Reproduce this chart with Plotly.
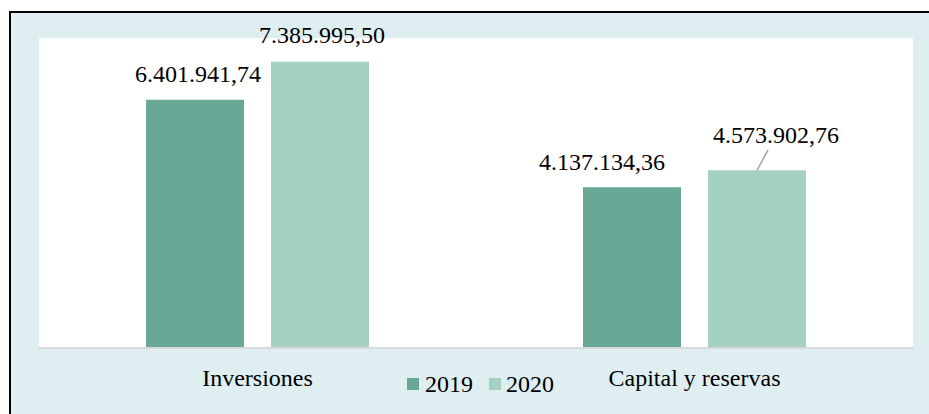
import plotly.graph_objects as go

# Data
categories = ["Inversiones", "Capital y reservas"]
years = ["2019", "2020"]
values_2019 = [6401941.74, 4137134.36]
values_2020 = [7385995.50, 4573902.76]

colors = {"2019": "#69A896", "2020": "#A5D1C2"}
serif = "Times New Roman"
FS = 24


def fmt_es(v):
    s = f"{v:,.2f}"
    return s.replace(",", "X").replace(".", ",").replace("X", ".")


W, H = 929, 414
L, R, T, B = 39, 16, 38, 67
pw, ph = W - L - R, H - T - B
x_px = lambda p: (p - L) / pw
y_px = lambda p: (H - B - p) / ph

BARGAP, GROUPGAP = 0.428, 0.216

fig = go.Figure()
for yr, vals in zip(years, [values_2019, values_2020]):
    fig.add_trace(go.Bar(
        name=yr, x=categories, y=vals,
        marker=dict(color=colors[yr], line=dict(width=0)),
        hoverinfo="skip", showlegend=False,
    ))

# bar centre offset within each category group (pixels)
slot = (pw / len(categories)) * (1 - BARGAP) / 2
offsets = {"2019": -slot / 2, "2020": slot / 2}
# small nudges of individual value labels (pixels)
nudge_x = {("2019", "Inversiones"): 3, ("2020", "Inversiones"): 2,
           ("2019", "Capital y reservas"): -30}
nudge_y = {("2019", "Inversiones"): 11, ("2020", "Inversiones"): 12,
           ("2019", "Capital y reservas"): 10}

annotations = []
for yr, vals in zip(years, [values_2019, values_2020]):
    for cat, v in zip(categories, vals):
        a = dict(x=cat, y=v, xref="x", yref="y", text=fmt_es(v),
                 font=dict(family=serif, size=FS, color="#000000"),
                 xshift=offsets[yr] + nudge_x.get((yr, cat), 0),
                 showarrow=False, yanchor="bottom",
                 yshift=nudge_y.get((yr, cat), 0))
        if yr == "2020" and cat == "Capital y reservas":
            a.update(showarrow=True, ax=19, ay=-35, arrowhead=0,
                     arrowwidth=1.5, arrowcolor="#A6A6A6", standoff=0,
                     yanchor="middle")
        annotations.append(a)

# frame: light panel with black edge, white plotting region on top
shapes = [
    dict(type="rect", xref="paper", yref="paper", layer="below",
         x0=x_px(10), x1=x_px(940), y0=y_px(12), y1=y_px(430),
         fillcolor="#DEEEF1", line=dict(color="#000000", width=2)),
    dict(type="rect", xref="paper", yref="paper", layer="below",
         x0=0, x1=1, y0=0, y1=1,
         fillcolor="#FFFFFF", line=dict(width=0)),
]

# legend: colour square followed by year label
legend_items = [("2019", 407, 424), ("2020", 489, 505)]
for yr, sq_x, tx_x in legend_items:
    shapes.append(dict(type="rect", xref="paper", yref="paper", layer="above",
                       x0=x_px(sq_x), x1=x_px(sq_x + 12),
                       y0=y_px(390), y1=y_px(378),
                       fillcolor=colors[yr], line=dict(width=0)))
    annotations.append(dict(x=x_px(tx_x - 1), y=y_px(384), xref="paper", yref="paper",
                            text=yr, showarrow=False, xanchor="left",
                            yanchor="middle",
                            font=dict(family=serif, size=FS, color="#000000")))

fig.update_layout(
    width=W, height=H,
    margin=dict(l=L, r=R, t=T, b=B, pad=0),
    paper_bgcolor="#FFFFFF", plot_bgcolor="#FFFFFF",
    barmode="group", bargap=BARGAP, bargroupgap=GROUPGAP,
    font=dict(family=serif, size=FS, color="#000000"),
    showlegend=False,
    xaxis=dict(showgrid=False, showline=True, linecolor="#D9D9D9",
               linewidth=2, ticks="", ticklabelstandoff=8,
               tickfont=dict(family=serif, size=FS, color="#000000"),
               fixedrange=True),
    yaxis=dict(range=[0, 8000000], showgrid=False, showticklabels=False,
               zeroline=False, showline=False, fixedrange=True),
    shapes=shapes,
    annotations=annotations,
)

fig.write_html("out.html")
